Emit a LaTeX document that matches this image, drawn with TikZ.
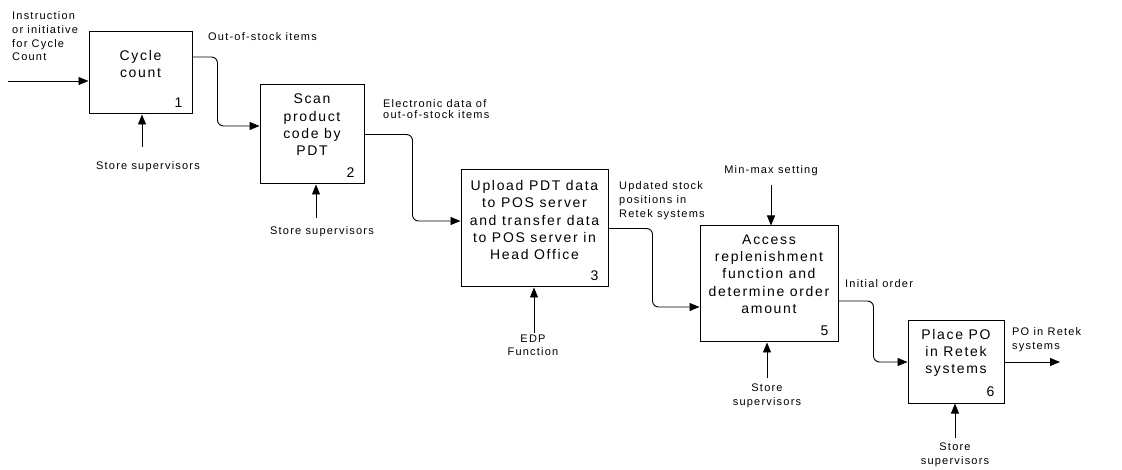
\documentclass[tikz,border=0pt]{standalone}
\usepackage{fontspec}
\setmainfont{Liberation Sans}
\newfontfamily\procfont{Liberation Sans}[LetterSpace=12]
\newfontfamily\flowfont{Liberation Sans}[LetterSpace=11]
\usetikzlibrary{arrows.meta, calc, positioning}
\tikzstyle{proc} = [rectangle, draw=black, line width=1pt, inner sep=0pt]
\tikzstyle{proctext} = [align=center, font=\procfont\fontsize{14}{17.3}\selectfont, inner sep=0pt]
\tikzstyle{num} = [anchor=south east, font=\procfont\fontsize{14}{14}\selectfont, inner xsep=10pt, inner ysep=7pt]
\tikzstyle{flowlabel} = [align=left, font=\flowfont\fontsize{11}{14}\selectfont, inner sep=0pt]
\tikzstyle{arrow} = [line width=0.9pt, -{Triangle[length=10pt,width=8pt]}]
\tikzstyle{elbow} = [arrow, rounded corners=6pt]

\begin{document}
\begin{tikzpicture}[x=1pt, y=-1pt]
	\useasboundingbox (0,0) rectangle (1122,470);
	% activity boxes
	\node (cycle) [proc, minimum width=103pt, minimum height=82pt] at (140.5,73) {};
	\node (cycletxt) [proctext] at (140.5,64) {Cycle\\count};
	\node (cyclenum) [num] at (cycle.south east) {1};
	\node (scan) [proc, minimum width=104pt, minimum height=99pt] at (312,134.5) {};
	\node (scantxt) [proctext] at (312,125) {Scan\\product\\code by\\PDT};
	\node (scannum) [num] at (scan.south east) {2};
	\node (upload) [proc, minimum width=147pt, minimum height=117pt] at (534.5,228.5) {};
	\node (uploadtxt) [proctext] at (534.5,220) {Upload PDT data\\to POS server\\and transfer data\\to POS server in\\Head Office};
	\node (uploadnum) [num] at (upload.south east) {3};
	\node (access) [proc, minimum width=138pt, minimum height=116pt] at (769,284) {};
	\node (accesstxt) [proctext] at (769,274) {Access\\replenishment\\function and\\determine order\\amount};
	\node (accessnum) [num] at (access.south east) {5};
	\node (place) [proc, minimum width=96pt, minimum height=82pt] at (956,362) {};
	\node (placetxt) [proctext] at (956,353) {Place PO\\in Retek\\systems};
	\node (placenum) [num] at (place.south east) {6};
	% flows between boxes
	\coordinate (instr) at (8,81);
	\coordinate (poout) at (1060,362);
	\draw [arrow] (instr) -- (instr -| cycle.west);
	\draw [elbow] ([yshift=16pt]cycle.east) -- ++(25,0) |- ([yshift=8.5pt]scan.west);
	\draw [elbow] (scan.east) -- ++(48,0) |- ([yshift=7.5pt]upload.west);
	\draw [elbow] (upload.east) -- ++(44,0) |- ([yshift=-23pt]access.west);
	\draw [elbow] ([yshift=-17pt]access.east) -- ++(35,0) |- (place.west);
	\draw [arrow] (place.east) -- (poout);
	% controls and mechanisms
	\coordinate (ctrl1) at (142,147);
	\coordinate (ctrl2) at (316,218);
	\coordinate (ctrl3) at (534,333);
	\coordinate (ctrl5) at (767,378);
	\coordinate (ctrl6) at (955,438);
	\coordinate (mech5) at (771,185);
	\draw [arrow] (ctrl1) -- (ctrl1 |- cycle.south);
	\draw [arrow] (ctrl2) -- (ctrl2 |- scan.south);
	\draw [arrow] (ctrl3) -- (ctrl3 |- upload.south);
	\draw [arrow] (ctrl5) -- (ctrl5 |- access.south);
	\draw [arrow] (ctrl6) -- (ctrl6 |- place.south);
	\draw [arrow] (mech5) -- (mech5 |- access.north);
	% labels
	\node (instrlbl) [flowlabel, anchor=west, font=\flowfont\fontsize{11}{13.7}\selectfont] at (12,36.5) {Instruction\\or initiative\\for Cycle\\Count};
	\node (ooslbl) [flowlabel, anchor=west] at (208,37) {Out-of-stock items};
	\node (sup1) [flowlabel, align=center] at (148,167) {Store supervisors};
	\node (edatalbl) [flowlabel, anchor=west, font=\flowfont\fontsize{11}{11}\selectfont] at (383,109.5) {Electronic data of\\out-of-stock items};
	\node (sup2) [flowlabel, align=center] at (322,232) {Store supervisors};
	\node (edplbl) [flowlabel, align=center, font=\flowfont\fontsize{11}{13}\selectfont] at (533,345.5) {EDP\\Function};
	\node (updlbl) [flowlabel, anchor=west] at (619,201) {Updated stock\\positions in\\Retek systems};
	\node (minmaxlbl) [flowlabel, align=center] at (771,171) {Min-max setting};
	\node (sup5) [flowlabel, align=center] at (767,396) {Store\\supervisors};
	\node (initlbl) [flowlabel, anchor=west] at (845,284) {Initial order};
	\node (polbl) [flowlabel, anchor=west] at (1012,340) {PO in Retek\\systems};
	\node (sup6) [flowlabel, align=center] at (955,455) {Store\\supervisors};
\end{tikzpicture}
\end{document}
